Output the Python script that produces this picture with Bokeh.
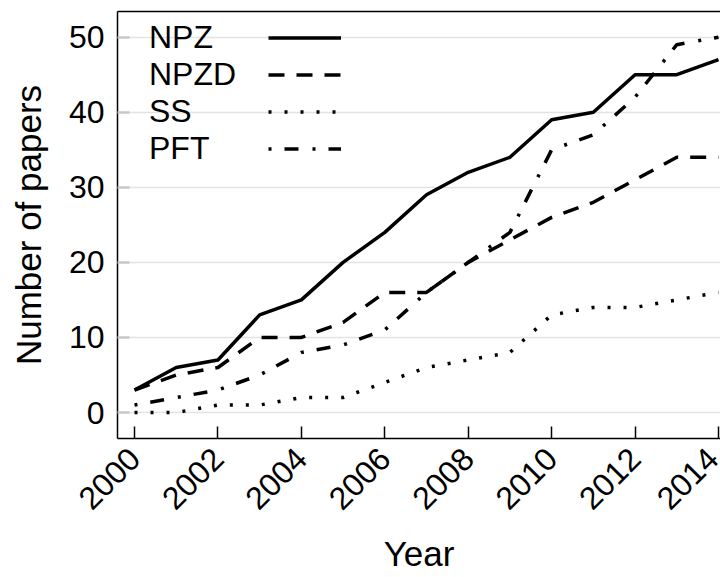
import math
from bokeh.plotting import figure
from bokeh.models import Range1d, Legend, LegendItem, LinearAxis, FixedTicker
from bokeh.embed import file_html
from bokeh.resources import INLINE

# ---- data ----
years = list(range(2000, 2015))
npz  = [3, 6, 7, 13, 15, 20, 24, 29, 32, 34, 39, 40, 45, 45, 47]
npzd = [3, 5, 6, 10, 10, 12, 16, 16, 20, 23, 26, 28, 31, 34, 34]
ss   = [0, 0, 1, 1, 2, 2, 4, 6, 7, 8, 13, 14, 14, 15, 16]
pft  = [1, 2, 3, 5, 8, 9, 11, 16, 20, 24, 35, 37, 42, 49, 50]
series_names = ["NPZ", "NPZD", "SS", "PFT"]
x_ticks = list(range(2000, 2015, 2))
y_ticks = [0, 10, 20, 30, 40, 50]

FONT = "Liberation Sans"

p = figure(width=720, height=577, output_backend="svg", toolbar_location=None,
           x_range=Range1d(1999.592, 2014.048), y_range=Range1d(-3.46, 53.42),
           min_border_left=117, min_border_right=0, min_border_top=11,
           min_border_bottom=139,
           x_axis_label="Year", y_axis_label="Number of papers")
p.outline_line_color = None
p.background_fill_color = "white"
p.border_fill_color = "white"

# x axis
xa = p.xaxis[0]
xa.ticker = FixedTicker(ticks=x_ticks)
xa.major_label_orientation = math.pi / 4
xa.major_tick_in = 12
xa.major_tick_out = 0
xa.minor_tick_line_color = None
xa.axis_line_width = 1.5
xa.major_tick_line_width = 1.5
xa.axis_line_color = "black"
xa.major_tick_line_color = "black"
xa.major_label_text_font = FONT
xa.major_label_text_font_size = "32px"
xa.major_label_text_color = "black"
xa.major_label_standoff = 15
xa.axis_label_text_font = FONT
xa.axis_label_text_font_size = "35px"
xa.axis_label_text_font_style = "normal"
xa.axis_label_text_color = "black"
xa.axis_label_standoff = 12

# y axis
ya = p.yaxis[0]
ya.ticker = FixedTicker(ticks=y_ticks)
ya.major_tick_in = 12
ya.major_tick_out = 0
ya.minor_tick_line_color = None
ya.major_tick_line_color = "#c8c8c8"
ya.major_tick_line_width = 2.5
ya.axis_line_width = 1.5
ya.axis_line_color = "black"
ya.major_label_text_font = FONT
ya.major_label_text_font_size = "32px"
ya.major_label_text_color = "black"
ya.major_label_standoff = 13
ya.axis_label_text_font = FONT
ya.axis_label_text_font_size = "35px"
ya.axis_label_text_font_style = "normal"
ya.axis_label_text_color = "black"
ya.axis_label_standoff = 18

# top border line
top = LinearAxis(ticker=FixedTicker(ticks=[]), major_tick_in=0, major_tick_out=0,
                 minor_tick_in=0, minor_tick_out=0,
                 major_label_text_font_size="0px",
                 axis_line_width=1.5, axis_line_color="black")
p.add_layout(top, "above")

# grid
p.xgrid.visible = False
p.ygrid.ticker = FixedTicker(ticks=y_ticks)
p.ygrid.grid_line_color = "#e3e3e3"
p.ygrid.grid_line_width = 1.5

# series
common = dict(line_color="black", line_width=3.5, line_cap="butt", line_join="round")
r_npz = p.line(years, npz, **common)
r_npzd = p.line(years, npzd, line_dash="16 12", **common)
r_ss = p.line(years, ss, line_dash="3 13", **common)
r_pft = p.line(years, pft, line_dash="3 13 14 14", **common)
renderers = [r_npz, r_npzd, r_ss, r_pft]

legend_common = dict(spacing=0, padding=0, margin=0, border_line_color=None,
                     background_fill_alpha=0, label_standoff=0,
                     glyph_height=37, label_height=37,
                     label_text_font=FONT, label_text_font_size="32px",
                     label_text_color="black", label_text_baseline="middle")

legend_text = Legend(items=[LegendItem(label=n, renderers=[r])
                            for n, r in zip(series_names, renderers)],
                     location=(32, 271), glyph_width=0, **legend_common)
legend_glyph = Legend(items=[LegendItem(label="", renderers=[r]) for r in renderers],
                      location=(151, 271), glyph_width=73, label_width=0,
                      **legend_common)
p.add_layout(legend_text)
p.add_layout(legend_glyph)

open("out.html", "w").write(file_html(p, INLINE))
